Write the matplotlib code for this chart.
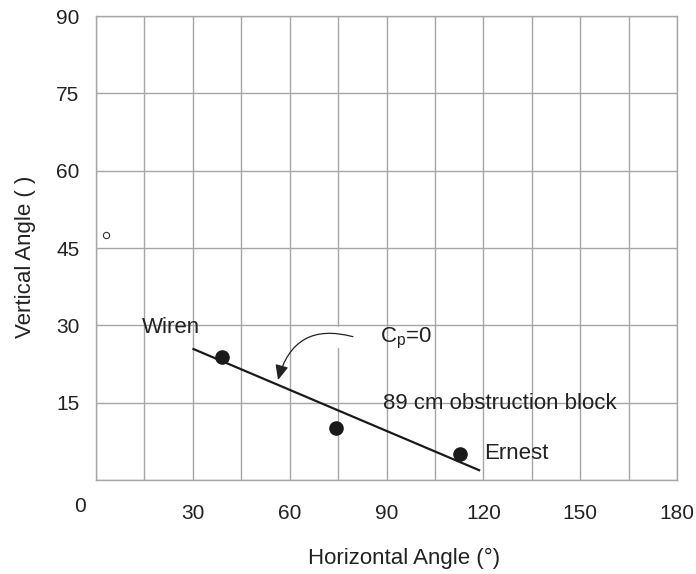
import matplotlib
matplotlib.use("Agg")
import matplotlib.pyplot as plt
from matplotlib.patches import FancyArrowPatch

plt.rcParams['font.family'] = ['Liberation Sans', 'DejaVu Sans']
plt.rcParams['mathtext.fontset'] = 'custom'
plt.rcParams['mathtext.rm'] = 'Liberation Sans'
plt.rcParams['mathtext.it'] = 'Liberation Sans:italic'

# data
point_x = [39, 74.5, 112.8]
point_y = [23.9, 10.1, 5.0]
fit_x = [30.2, 118.7]
fit_y = [25.4, 1.9]
open_x = [3.1]
open_y = [47.6]
xticks = [0, 30, 60, 90, 120, 150, 180]
yticks = [0, 15, 30, 45, 60, 75, 90]
grid_x = list(range(0, 181, 15))
grid_y = list(range(0, 91, 15))

txt = '#222222'
gridc = '#a6a6a6'

fig = plt.figure(figsize=(6.96, 5.74), dpi=100)
ax = fig.add_axes([96/696, 94/574, 581/696, 464/574])
ax.set_xlim(0, 180)
ax.set_ylim(0, 90)

for gx in grid_x:
    ax.axvline(gx, color=gridc, lw=1.0, zorder=1)
for gy in grid_y:
    ax.axhline(gy, color=gridc, lw=1.0, zorder=1)
for s in ax.spines.values():
    s.set_color(gridc)
    s.set_linewidth(1.0)

ax.set_xticks(xticks)
ax.set_xticklabels([''] + [str(v) for v in xticks[1:]])
ax.set_yticks(yticks)
ax.set_yticklabels([''] + [str(v) for v in yticks[1:]])
ax.tick_params(axis='x', length=0, pad=17, labelsize=15, labelcolor=txt)
ax.tick_params(axis='y', length=0, pad=12, labelsize=15, labelcolor=txt)
ax.text(-5, -5.2, '0', ha='center', va='center', fontsize=15, color=txt, clip_on=False)

ax.set_xlabel('Horizontal Angle (°)', fontsize=16, color=txt, va='center')
ax.xaxis.set_label_coords(0.53, -0.168)
ax.set_ylabel('Vertical Angle ( )', fontsize=16, color=txt, va='center')
ax.yaxis.set_label_coords(-0.122, 0.48)

ax.plot(fit_x, fit_y, color='#1a1a1a', lw=1.6, zorder=3)
ax.plot(point_x, point_y, 'o', color='#1a1a1a', ms=9.5, zorder=4)
ax.plot(open_x, open_y, 'o', mfc='white', mec='#333333', ms=4.5, mew=0.8, zorder=4)

# white gap in grid under the arrow arc
ax.plot([75, 75], [26.0, 29.4], color='white', lw=2.5, zorder=2)

arrow = FancyArrowPatch((79.6, 27.8), (56.4, 19.4), connectionstyle='arc3,rad=0.5',
                        arrowstyle='-|>,head_length=9,head_width=4', color='#222222', lw=0.9,
                        zorder=5, shrinkA=0, shrinkB=0)
ax.add_patch(arrow)

ax.text(14.1, 28.5, 'Wiren', fontsize=16, color=txt, va='baseline', ha='left')
ax.text(88, 26.6, r'C$_\mathrm{p}$=0', fontsize=16, color=txt, va='baseline', ha='left')
ax.text(88.9, 13.8, '89 cm obstruction block', fontsize=16, color=txt, va='baseline', ha='left')
ax.text(120.2, 4.0, 'Ernest', fontsize=16, color=txt, va='baseline', ha='left')

fig.savefig('out.png', dpi=100)
